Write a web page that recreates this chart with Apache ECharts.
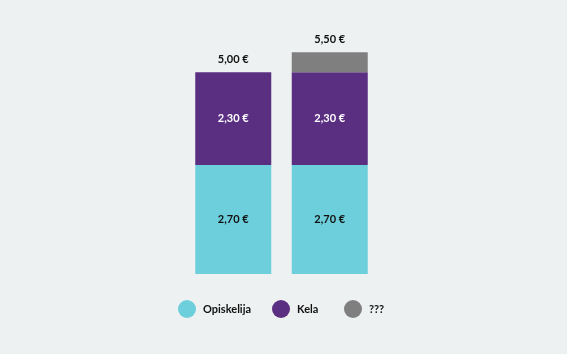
<!DOCTYPE html>
<html><head><meta charset="utf-8">
<script src="https://cdn.jsdelivr.net/npm/echarts@6/dist/echarts.min.js"></script>
<style>html,body{margin:0;padding:0;background:#eef1f1}#c{width:567px;height:354px}</style>
</head><body><div id="c"></div>
<script>
const categories = ['A', 'B'];
const opiskelija = [2.70, 2.70];
const kela = [2.30, 2.30];
const unknown = [0, 0.50];
const seriesNames = ['Opiskelija', 'Kela', '???'];
const colors = ['#6ecfdc', '#5a2e80', '#7f7f7f'];

const totals = categories.map((_, i) => opiskelija[i] + kela[i] + unknown[i]);
const fmt = v => v.toFixed(2).replace('.', ',') + ' €';
const font = 'Lato';

const chart = echarts.init(document.getElementById('c'));
const segLabel = (color) => ({
  show: true, position: 'inside', color: color, fontFamily: font, fontSize: 11, fontWeight: 'bold',
  formatter: p => (p.value > 0 ? fmt(p.value) : '')
});
const legendPos = [173, 267, 339];
chart.setOption({
  backgroundColor: '#eef1f1',
  animation: false,
  grid: { left: 185, width: 193, top: 32, bottom: 80 },
  xAxis: { type: 'category', data: categories, show: false },
  yAxis: { type: 'value', min: 0, max: 6, show: false },
  legend: seriesNames.map((n, i) => ({
    data: [n], left: legendPos[i], top: 295, icon: 'circle', itemWidth: 18, itemHeight: 18,
    itemGap: 0, textStyle: { fontFamily: font, fontSize: 11, fontWeight: 'bold', color: '#111', padding: [0,0,0,2] }
  })),
  series: [
    { name: seriesNames[0], type: 'bar', stack: 's', barWidth: 76, data: opiskelija,
      itemStyle: { color: colors[0] }, label: segLabel('#111') },
    { name: seriesNames[1], type: 'bar', stack: 's', barWidth: 76, data: kela,
      itemStyle: { color: colors[1] }, label: segLabel('#fff') },
    { name: seriesNames[2], type: 'bar', stack: 's', barWidth: 76, data: unknown,
      itemStyle: { color: colors[2] }, label: { show: false } },
    { name: 'total', type: 'bar', stack: 's', barWidth: 76, data: categories.map(() => 0),
      itemStyle: { color: 'transparent' },
      label: { show: true, position: 'top', distance: 7, color: '#111', fontFamily: font, fontSize: 11, fontWeight: 'bold',
        formatter: p => fmt(totals[p.dataIndex]) } }
  ]
});
</script></body></html>
